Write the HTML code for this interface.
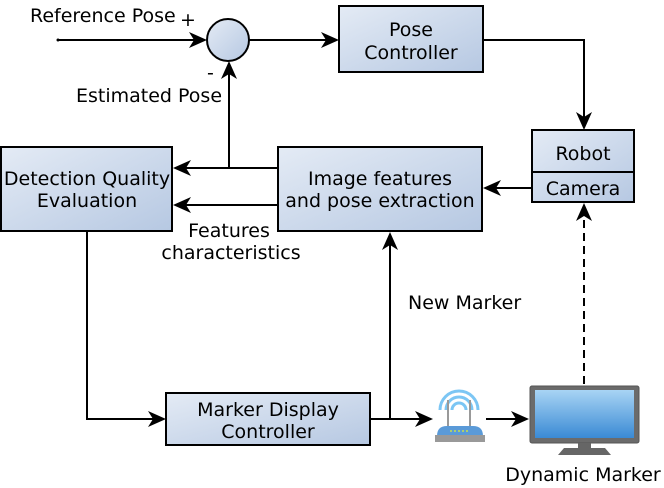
<!DOCTYPE html>
<html><head><meta charset="utf-8"><style>
html,body{margin:0;padding:0;background:#fff;width:664px;height:488px;overflow:hidden}
</style></head><body>
<svg width="664" height="488" viewBox="0 0 664 488" xmlns="http://www.w3.org/2000/svg">
<defs>
<linearGradient id="g" x1="0" y1="0" x2="1" y2="1"><stop offset="0" stop-color="#e4ebf5"/><stop offset="1" stop-color="#b6c8e2"/></linearGradient>
<linearGradient id="scr" x1="0" y1="0" x2="0" y2="1"><stop offset="0" stop-color="#a8d4f4"/><stop offset="1" stop-color="#3a8ad4"/></linearGradient>
</defs>
<g fill="none" stroke="#000" stroke-width="2">
<path d="M58,40 H200"/>
<path d="M249,40 H332"/>
<path d="M483,40 H584 V124"/>
<path d="M532,188 H490"/>
<path d="M278,168 H180"/>
<path d="M229,168 V68"/>
<path d="M278,205 H180"/>
<path d="M87,231 V419 H160"/>
<path d="M370,419 H426"/>
<path d="M390,419 V240"/>
<path d="M486,419 H522"/>
<path d="M584,384 V211" stroke-dasharray="8,5"/>
</g>
<g fill="#000">
<path d="M207,40 l-18,-8 l5,8 l-5,8 Z"/>
<path d="M339,40 l-18,-8 l5,8 l-5,8 Z"/>
<path d="M584,130 l-8,-18 l8,5 l8,-5 Z"/>
<path d="M483,188 l18,-8 l-5,8 l5,8 Z"/>
<path d="M173,168 l18,-8 l-5,8 l5,8 Z"/>
<path d="M173,205 l18,-8 l-5,8 l5,8 Z"/>
<path d="M229,61 l-8,18 l8,-5 l8,5 Z"/>
<path d="M166,419 l-18,-8 l5,8 l-5,8 Z"/>
<path d="M433,419 l-18,-8 l5,8 l-5,8 Z"/>
<path d="M529,419 l-18,-8 l5,8 l-5,8 Z"/>
<path d="M390,232 l-8,18 l8,-5 l8,5 Z"/>
<path d="M584,203 l-8,18 l8,-5 l8,5 Z"/>
</g>
<circle cx="58" cy="40" r="1.5" fill="#000"/>
<circle cx="228" cy="40" r="21" fill="url(#g)" stroke="#000" stroke-width="2"/>
<g stroke="#000" stroke-width="2" fill="url(#g)">
<rect x="339" y="6" width="144" height="66"/>
<rect x="532" y="130" width="102" height="72"/>
<rect x="278" y="147" width="204" height="84"/>
<rect x="1" y="147" width="171" height="84"/>
<rect x="166" y="393" width="204" height="52"/>
</g>
<line x1="532" y1="172" x2="634" y2="172" stroke="#000" stroke-width="2"/>
<g fill="none" stroke="#7cc6f4" stroke-width="3">
<path d="M440,410 A19,19 0 0 1 478,410"/>
<path d="M446,410 A13,13 0 0 1 472,410"/>
<path d="M452,410 A7,7 0 0 1 466,410"/>
</g>
<rect x="447" y="400" width="2" height="26" fill="#999"/><rect x="469" y="400" width="2" height="26" fill="#999"/>
<path d="M437,436 Q437,426 447,426 H473 Q483,426 483,436 Z" fill="#5a9ad8"/>
<rect x="435" y="435" width="50" height="7" fill="#999"/>
<line x1="450" y1="431" x2="470" y2="431" stroke="#c8e04a" stroke-width="1.5" stroke-dasharray="2,2"/>
<rect x="530" y="386" width="109" height="57" rx="2" fill="#6b6b6b" stroke="#555"/>
<rect x="535" y="390" width="99" height="48" fill="url(#scr)"/>
<rect x="578" y="443" width="13" height="8" fill="#666"/>
<path d="M558,455 L564,448 H605 L611,455 Z" fill="#666"/>
<g font-family="DejaVu Sans, Liberation Sans, sans-serif" font-size="19" fill="#000">
<text x="30" y="22">Reference Pose</text>
<text x="180" y="26">+</text>
<text x="207" y="79">-</text>
<text x="76" y="102">Estimated Pose</text>
<text x="411" y="36" text-anchor="middle">Pose</text>
<text x="411" y="59" text-anchor="middle">Controller</text>
<text x="583" y="160" text-anchor="middle">Robot</text>
<text x="583" y="195" text-anchor="middle">Camera</text>
<text x="380" y="185" text-anchor="middle">Image features</text>
<text x="380" y="207" text-anchor="middle">and pose extraction</text>
<text x="87" y="185" text-anchor="middle">Detection Quality</text>
<text x="87" y="207" text-anchor="middle">Evaluation</text>
<text x="229" y="237" text-anchor="middle">Features</text>
<text x="231" y="259" text-anchor="middle">characteristics</text>
<text x="408" y="309">New Marker</text>
<text x="268" y="416" text-anchor="middle">Marker Display</text>
<text x="268" y="438" text-anchor="middle">Controller</text>
<text x="583" y="481" text-anchor="middle">Dynamic Marker</text>
</g>
</svg>
</body></html>
